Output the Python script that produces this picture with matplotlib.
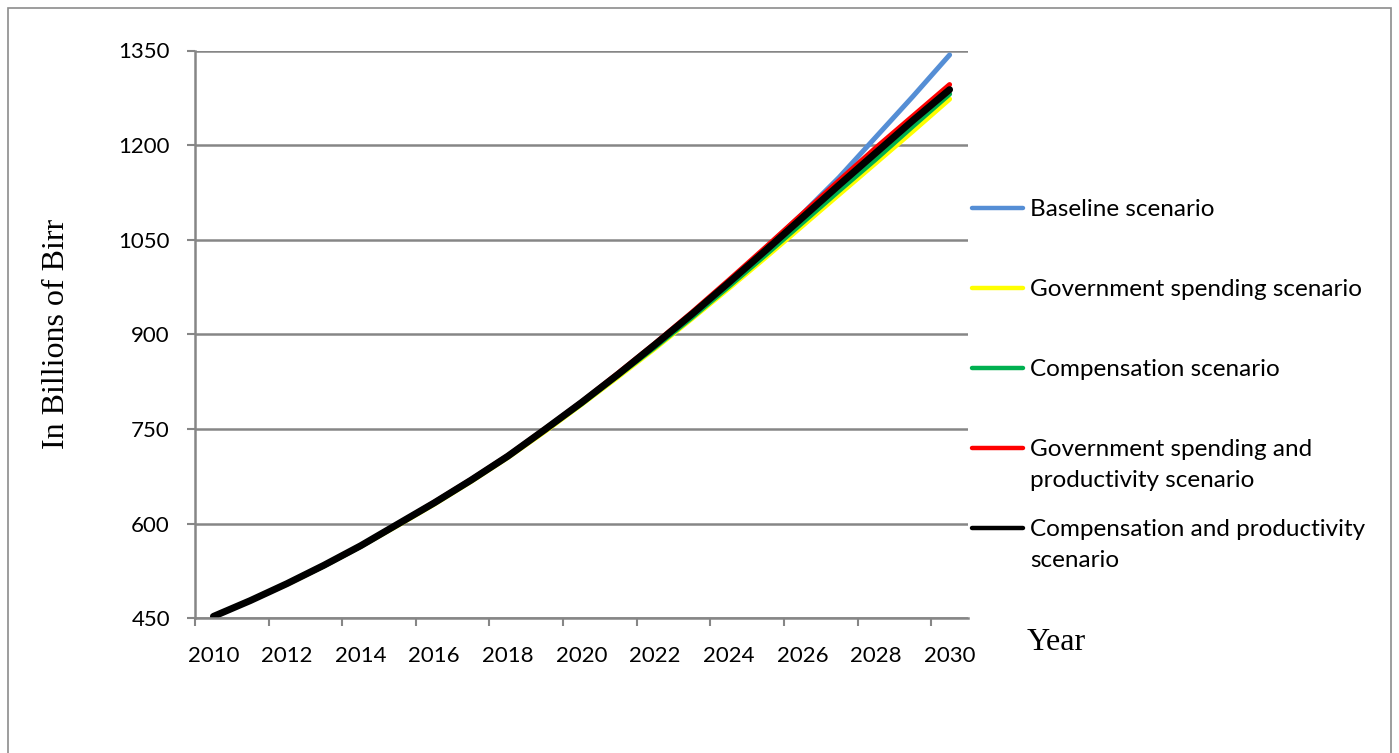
import matplotlib
matplotlib.use("Agg")
import matplotlib.pyplot as plt
from matplotlib.lines import Line2D
from matplotlib.patches import Rectangle

years = list(range(2010, 2031))
year_labels = [str(y) for y in years[::2]]

# values (billions of Birr)
baseline = [453, 478, 505, 534, 565, 599, 633, 669, 707, 749, 792, 837, 884, 933,
            984, 1036, 1091, 1149, 1213, 1277, 1343]
gov_spending = [453, 478, 504, 533, 564, 597, 631, 667, 705, 746, 789, 833, 878, 925,
                973, 1022, 1072, 1122, 1172, 1222, 1273]
compensation = [453, 478, 505, 533, 564, 598, 632, 668, 706, 748, 790, 835, 880, 927,
                976, 1026, 1077, 1128, 1178, 1230, 1281]
gov_prod = [453, 478, 505, 534, 565, 599, 634, 670, 708, 750, 793, 839, 886, 935,
            986, 1038, 1091, 1144, 1196, 1246, 1296]
comp_prod = [453, 478, 505, 534, 565, 599, 633, 669, 707, 749, 792, 837, 884, 932,
             982, 1033, 1085, 1137, 1188, 1239, 1288]

series = [
    ("Baseline scenario", baseline, "#558ED5", 3.6),
    ("Government spending scenario", gov_spending, "#FFFF00", 3.6),
    ("Compensation scenario", compensation, "#00B050", 3.6),
    ("Government spending and\nproductivity scenario", gov_prod, "#FF0000", 3.6),
    ("Compensation and productivity\nscenario", comp_prod, "#000000", 5.0),
]

W, H = 1399, 753
grey = "#868686"
tickfont = "Lato"
serif = "Liberation Serif"

def fx(x):
    return x / W

def fy(y):
    return 1 - y / H

fig = plt.figure(figsize=(W / 100, H / 100), dpi=100)
fig.patches.append(Rectangle((fx(8), fy(790)), fx(1383), (790 - 8) / H,
                             transform=fig.transFigure, fill=False,
                             edgecolor="#8c8c8c", lw=1.2))

ax = fig.add_axes([fx(195), fy(618.3), fx(968 - 195), (618.3 - 50.5) / H])
idx = list(range(len(years)))
for name, vals, col, lw in series:
    ax.plot(idx, vals, color=col, lw=lw, solid_capstyle="round", solid_joinstyle="round")

ax.set_xlim(-0.5, len(years) - 0.5)
ax.set_ylim(450, 1350)
ax.set_yticks(range(450, 1351, 150))
ax.set_xticks(idx[::2])
ax.set_xticklabels(year_labels)
ax.set_xticks([i - 0.5 for i in idx[::2]], minor=True)
ax.tick_params(axis="x", which="major", length=0, pad=20, labelsize=16)
ax.tick_params(axis="x", which="minor", length=6, width=1.5, color=grey)
ax.tick_params(axis="y", length=6, width=1.5, color=grey, pad=12, labelsize=16)
for lab in ax.get_xticklabels() + ax.get_yticklabels():
    lab.set_fontfamily(tickfont)
ax.grid(axis="y", color=grey, lw=1.8)
ax.set_axisbelow(True)
for s in ("top", "right"):
    ax.spines[s].set_visible(False)
for s in ("left", "bottom"):
    ax.spines[s].set_color(grey)
    ax.spines[s].set_linewidth(1.8)

fig.text(fx(57), fy(334), "In Billions of Birr", rotation=90, ha="center", va="center",
         family=serif, fontsize=23)
fig.text(fx(1027), fy(643), "Year", ha="left", va="center", family=serif, fontsize=23)

# legend drawn by hand so two-line entries align like the original
leg_rows = [208, 288, 368, 448, 528]
for (name, vals, col, lw), yy in zip(series, leg_rows):
    fig.lines.append(Line2D([fx(972), fx(1023)], [fy(yy), fy(yy)], color=col, lw=3.2,
                            solid_capstyle="round", transform=fig.transFigure))
    fig.text(fx(1030), fy(yy - 9), name, ha="left", va="top", family=tickfont,
             fontsize=17.5, linespacing=1.6)

fig.savefig("out.png", dpi=100)
